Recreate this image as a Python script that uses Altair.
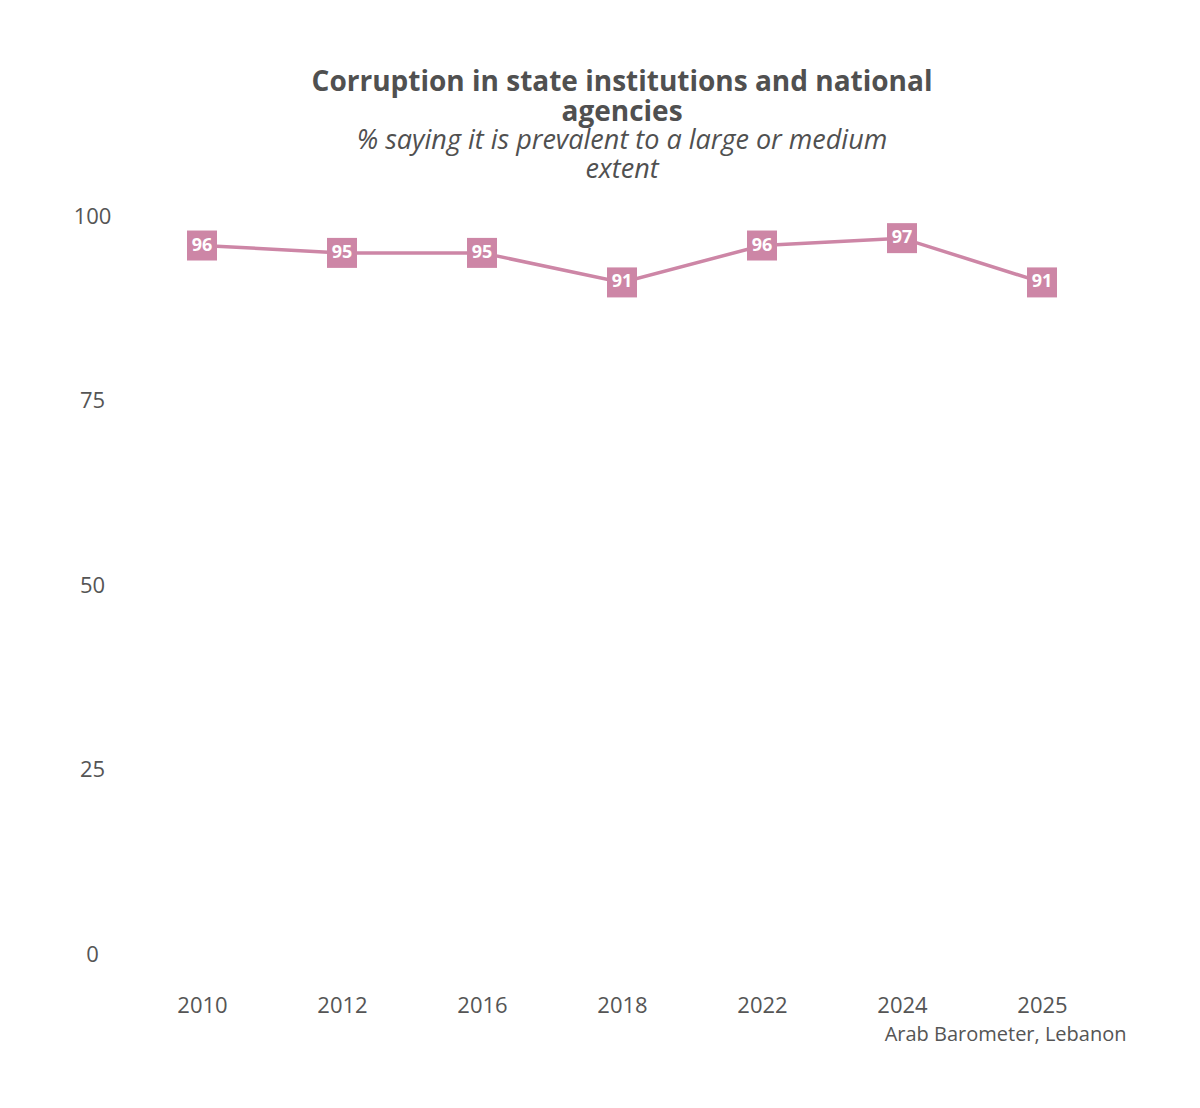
import altair as alt
import pandas as pd

years = ["2010", "2012", "2016", "2018", "2022", "2024", "2025"]
values = [96, 95, 95, 91, 96, 97, 91]
y_ticks = [0, 25, 50, 75, 100]

df = pd.DataFrame({"year": years, "value": values})

COLOR = "#cd86a6"
FONT = "Open Sans"
GREY = "#555555"

base = alt.Chart(df).encode(
    x=alt.X(
        "year:O",
        sort=years,
        scale=alt.Scale(padding=0.5),
        axis=alt.Axis(
            title="Arab Barometer, Lebanon",
            titleAnchor="end",
            titleAlign="right",
            titleX=994,
            titleY=70,
            titleFont=FONT,
            titleFontSize=20,
            titleFontWeight="normal",
            titleColor=GREY,
            labelAngle=0,
            labelFont=FONT,
            labelFontSize=22,
            labelColor=GREY,
            labelPadding=41,
            domain=False,
            ticks=False,
            tickSize=0,
        ),
    ),
    y=alt.Y(
        "value:Q",
        scale=alt.Scale(domain=[0, 100]),
        axis=alt.Axis(
            title=None,
            values=y_ticks,
            grid=False,
            domain=False,
            ticks=False,
            tickSize=0,
            labelAlign="center",
            labelPadding=40,
            labelFont=FONT,
            labelFontSize=22,
            labelColor=GREY,
        ),
    ),
)

line = base.mark_line(color=COLOR, strokeWidth=3.5)
pts = base.mark_point(shape="square", filled=True, size=900, opacity=1, color=COLOR)
labels = base.mark_text(color="white", fontWeight="bold", fontSize=18, font=FONT).encode(
    text="value:Q"
)

chart = (
    alt.layer(line, pts, labels)
    .properties(
        width=980,
        height=738,
        background="white",
        autosize=alt.AutoSizeParams(type="none"),
        padding={"left": 124, "top": 208, "right": 80, "bottom": 140},
        title=alt.TitleParams(
            text=["Corruption in state institutions and national", "agencies"],
            subtitle=["% saying it is prevalent to a large or medium", "extent"],
            anchor="middle",
            frame="group",
            font=FONT,
            fontSize=28,
            fontWeight="bold",
            color="#505050",
            lineHeight=30,
            subtitleFont=FONT,
            subtitleFontSize=27,
            subtitleFontStyle="italic",
            subtitleColor="#505050",
            subtitleLineHeight=29,
            subtitlePadding=1,
            offset=22,
        ),
    )
    .configure_view(strokeWidth=0, stroke=None)
)

chart.save("out.html", embed_options={"renderer": "svg", "actions": False})
